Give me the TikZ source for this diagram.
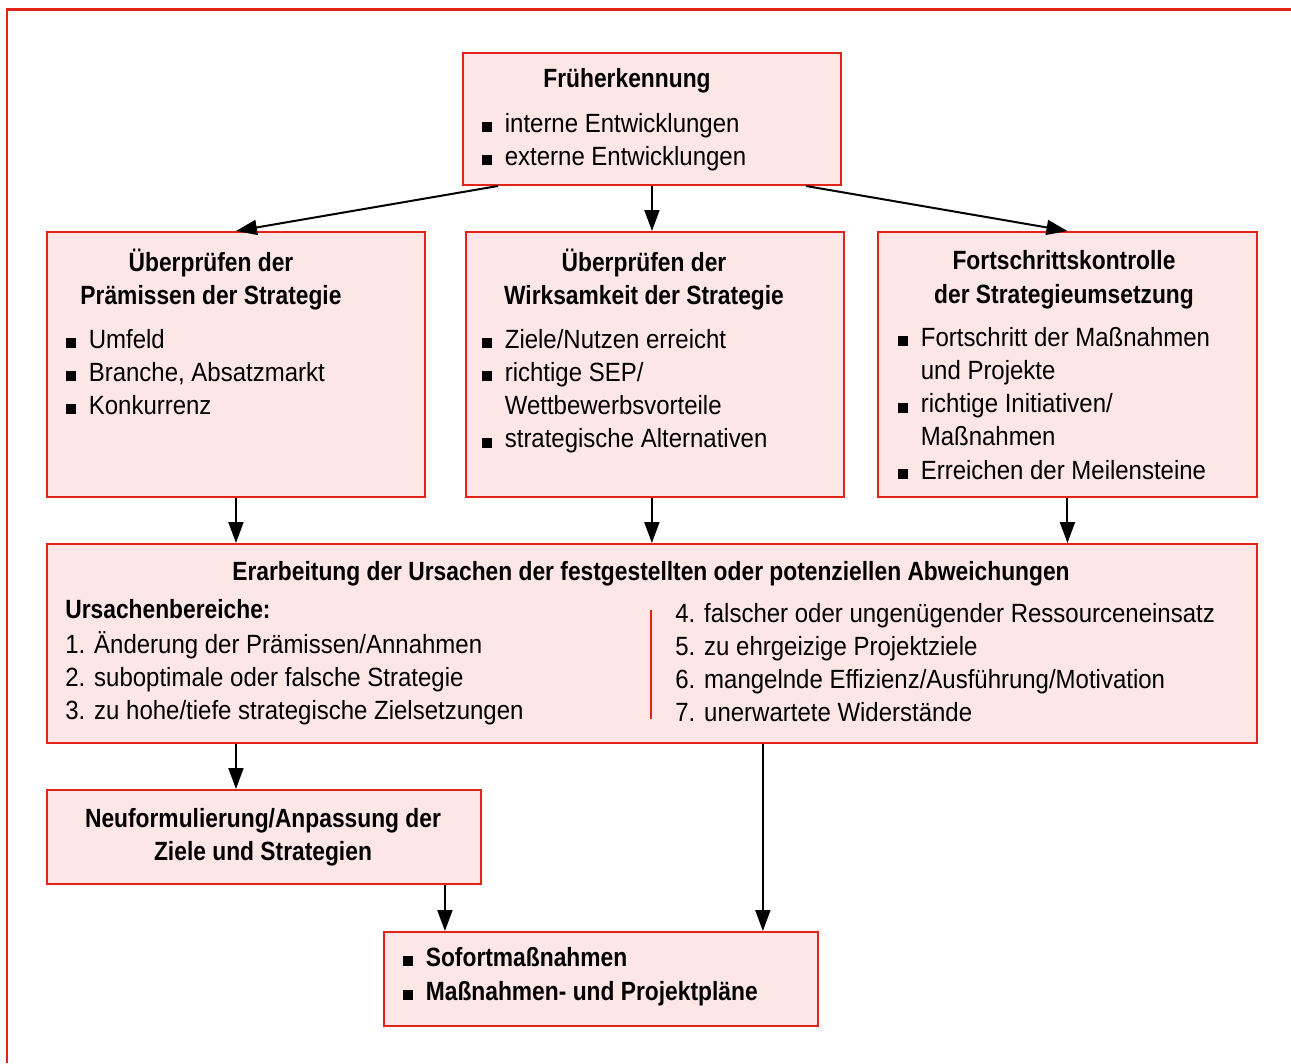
\documentclass[tikz,border=0pt]{standalone}
\usepackage{fontspec}
\setmainfont{Liberation Sans}[FakeStretch=0.91]
\newfontfamily\headfont{Liberation Sans}[FakeStretch=0.865]
\usepackage{tikz}
\usetikzlibrary{positioning}
\usetikzlibrary{arrows.meta}
\definecolor{boxred}{RGB}{226,35,24}
\definecolor{boxpink}{RGB}{252,230,230}
\newcommand{\bul}{\makebox[0.45cm][l]{\rule{0.2cm}{0.2cm}}}
\newcommand{\ind}{\hspace*{0.45cm}}
\tikzset{box/.style = {draw=boxred, fill=boxpink, line width=0.04cm,
                       inner sep=0, anchor=north west}}
\tikzset{arr/.style = {-{Triangle[length=0.42cm, width=0.3cm]}, line width=0.04cm}}
\tikzset{txt/.style = {anchor=base west, inner sep=0,
                       font=\fontsize{15}{18}\selectfont}}
\tikzset{head/.style = {anchor=base, inner sep=0,
                        font=\fontsize{15}{18}\selectfont\headfont\bfseries}}
\begin{document}
\begin{tikzpicture}[x=0.02cm, y=-0.02cm]
        \useasboundingbox (0,0) rectangle (1291,1063);
        \draw[boxred, line width=0.06cm] (7,1063) -- (7,9) -- (1291,9);
        \node[box, minimum width=7.56cm, minimum height=2.64cm] (fru) at (462,52) {};
        \node[box, minimum width=7.56cm, minimum height=5.30cm] (lb) at (46,231) {};
        \node[box, minimum width=7.56cm, minimum height=5.30cm] (mb) at (465,231) {};
        \node[box, minimum width=7.58cm, minimum height=5.30cm] (rb) at (877,231) {};
        \node[box, minimum width=24.2cm, minimum height=3.98cm] (big) at (46,543) {};
        \node[box, minimum width=8.68cm, minimum height=1.88cm] (neu) at (46,789) {};
        \node[box, minimum width=8.68cm, minimum height=1.88cm] (sof) at (383,931) {};
        \node[head] (fru-h) at (627,87) {Früherkennung};
        \foreach \t [count=\i] in {interne Entwicklungen, externe Entwicklungen}
                \node[txt] (fru-\i) at (482,{99+33*\i}) {\bul\t};
        \node[head] (lb-h1) at (211,271) {Überprüfen der};
        \node[head] (lb-h2) at (211,304) {Prämissen der Strategie};
        \foreach \t [count=\i] in {Umfeld, {Branche, Absatzmarkt}, Konkurrenz}
                \node[txt] (lb-\i) at (66,{315+33*\i}) {\bul\t};
        \node[head] (mb-h1) at (644,271) {Überprüfen der};
        \node[head] (mb-h2) at (644,304) {Wirksamkeit der Strategie};
        \foreach \t [count=\i] in {\bul Ziele/Nutzen erreicht, \bul richtige SEP/,
                                   \ind Wettbewerbsvorteile, \bul strategische Alternativen}
                \node[txt] (mb-\i) at (482,{314.7+33.3*\i}) {\t};
        \node[head] (rb-h1) at (1064,269) {Fortschrittskontrolle};
        \node[head] (rb-h2) at (1064,303) {der Strategieumsetzung};
        \foreach \t [count=\i] in {\bul Fortschritt der Maßnahmen, \ind und Projekte,
                                   \bul richtige Initiativen/, \ind Maßnahmen,
                                   \bul Erreichen der Meilensteine}
                \node[txt] (rb-\i) at (898,{312.7+33.3*\i}) {\t};
        \node[head] (big-h) at (651,580) {Erarbeitung der Ursachen der festgestellten oder potenziellen Abweichungen};
        \node[head, anchor=base west] (big-u) at (65,618) {Ursachenbereiche:};
        \foreach \t [count=\i] in {1. Änderung der Prämissen/Annahmen,
                                   2. suboptimale oder falsche Strategie,
                                   3. zu hohe/tiefe strategische Zielsetzungen}
                \node[txt] (big-l\i) at (65,{620+33*\i}) {\t};
        \foreach \t [count=\i] in {4. falscher oder ungenügender Ressourceneinsatz,
                                   5. zu ehrgeizige Projektziele,
                                   6. mangelnde Effizienz/Ausführung/Motivation,
                                   7. unerwartete Widerstände}
                \node[txt] (big-r\i) at (675,{589+33*\i}) {\t};
        \draw[boxred, line width=0.04cm] (651,610) -- (651,719);
        \node[head] (neu-1) at (263,827) {Neuformulierung/Anpassung der};
        \node[head] (neu-2) at (263,860) {Ziele und Strategien};
        \node[head, anchor=base west] (sof-1) at (403,966) {\bul Sofortmaßnahmen};
        \node[head, anchor=base west] (sof-2) at (403,1000) {\bul Maßnahmen- und Projektpläne};
        \coordinate (fl) at ([xshift=-3.08cm]fru.south);
        \coordinate (fr) at ([xshift=3.08cm]fru.south);
        \coordinate (bs) at ([xshift=2.22cm]big.south);
        \coordinate (ns) at ([xshift=-0.74cm]neu.south east);
        \draw[arr] (fl) -- (lb.north);
        \draw[arr] (fru.south) -- (fru.south |- mb.north);
        \draw[arr] (fr) -- (rb.north);
        \draw[arr] (lb.south) -- (lb.south |- big.north);
        \draw[arr] (mb.south -| big.north) -- (big.north);
        \draw[arr] (rb.south) -- (rb.south |- big.north);
        \draw[arr] (lb.south |- big.south) -- (lb.south |- neu.north);
        \draw[arr] (bs) -- (bs |- sof.north);
        \draw[arr] (ns) -- (ns |- sof.north);
\end{tikzpicture}
\end{document}
